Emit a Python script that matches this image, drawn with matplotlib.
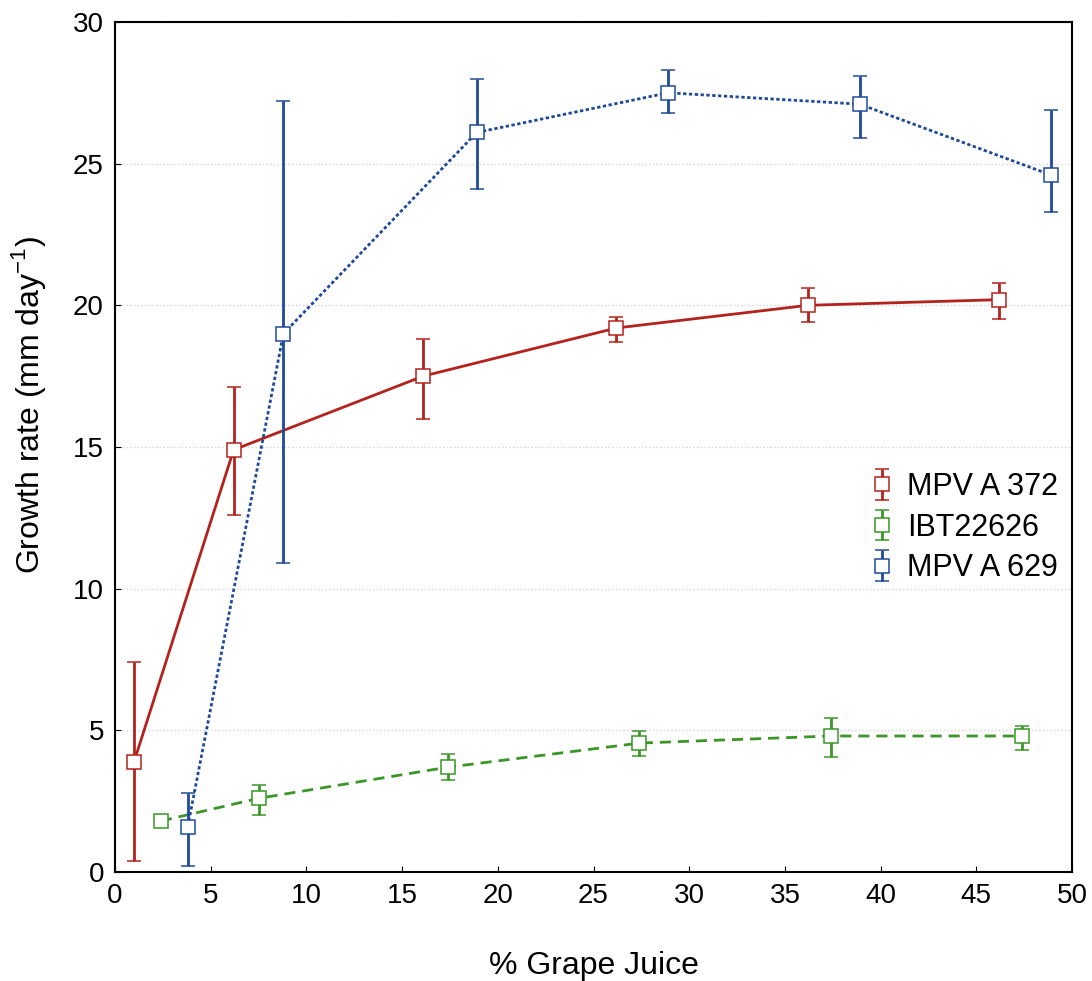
import matplotlib
matplotlib.use("Agg")
import matplotlib.pyplot as plt
import numpy as np

plt.rcParams['font.family'] = ['Liberation Sans', 'DejaVu Sans']

# % grape juice, mean growth rate and error bar limits for each isolate
x_372 = [1.0, 6.2, 16.1, 26.2, 36.2, 46.2]
y_372 = [3.9, 14.9, 17.5, 19.2, 20.0, 20.2]
lo_372 = [0.4, 12.6, 16.0, 18.7, 19.4, 19.5]
hi_372 = [7.4, 17.1, 18.8, 19.6, 20.6, 20.8]

x_ibt = [2.4, 7.5, 17.4, 27.4, 37.4, 47.4]
y_ibt = [1.8, 2.6, 3.7, 4.55, 4.8, 4.8]
lo_ibt = [1.6, 2.0, 3.25, 4.1, 4.05, 4.3]
hi_ibt = [2.0, 3.07, 4.17, 4.98, 5.45, 5.15]

x_629 = [3.8, 8.8, 18.9, 28.9, 38.9, 48.9]
y_629 = [1.6, 19.0, 26.1, 27.5, 27.1, 24.6]
lo_629 = [0.2, 10.9, 24.1, 26.8, 25.9, 23.3]
hi_629 = [2.8, 27.2, 28.0, 28.3, 28.1, 26.9]

series = [
    ("MPV A 372", x_372, y_372, lo_372, hi_372, "#b3221c", "-"),
    ("IBT22626", x_ibt, y_ibt, lo_ibt, hi_ibt, "#3a9626", (0, (4, 2.5))),
    ("MPV A 629", x_629, y_629, lo_629, hi_629, "#1f4a9a", (0, (1.2, 0.9))),
]

fig = plt.figure(figsize=(10.92, 9.81), dpi=100)
ax = fig.add_axes([0.1053, 0.1111, 0.8764, 0.8665])

for name, x, y, lo, hi, col, ls in series:
    y = np.array(y)
    yerr = [y - np.array(lo), np.array(hi) - y]
    # connecting line first, then the means with their error bars on top
    ax.plot(x, y, color=col, ls=ls, lw=2, zorder=2)
    ax.errorbar(x, y, yerr=yerr, ls='none',
                marker='s', ms=10, mfc='white', mec=col, mew=1.1,
                ecolor=col, elinewidth=2, capsize=5, capthick=2,
                label=name, zorder=3)

ax.set_xlim(0, 50)
ax.set_ylim(0, 30)
ax.set_xticks(range(0, 51, 5))
ax.set_yticks(range(0, 31, 5))
ax.yaxis.grid(True, color='#d4d4d4', ls=':', lw=1)
ax.set_axisbelow(True)
ax.tick_params(direction='in', length=4, labelsize=20, pad=8)
for sp in ax.spines.values():
    sp.set_linewidth(1.5)

ax.set_xlabel('% Grape Juice', fontsize=23, labelpad=30)
ax.set_ylabel('Growth rate (mm day$^{\\mathregular{-1}}$)', fontsize=23)
ax.yaxis.set_label_coords(-0.07, 0.55)

ax.legend(loc='center right', bbox_to_anchor=(1.014, 0.405), frameon=False,
          fontsize=22, handlelength=0.8, handletextpad=0.4, labelspacing=0.35)

fig.savefig('out.png', dpi=100)
